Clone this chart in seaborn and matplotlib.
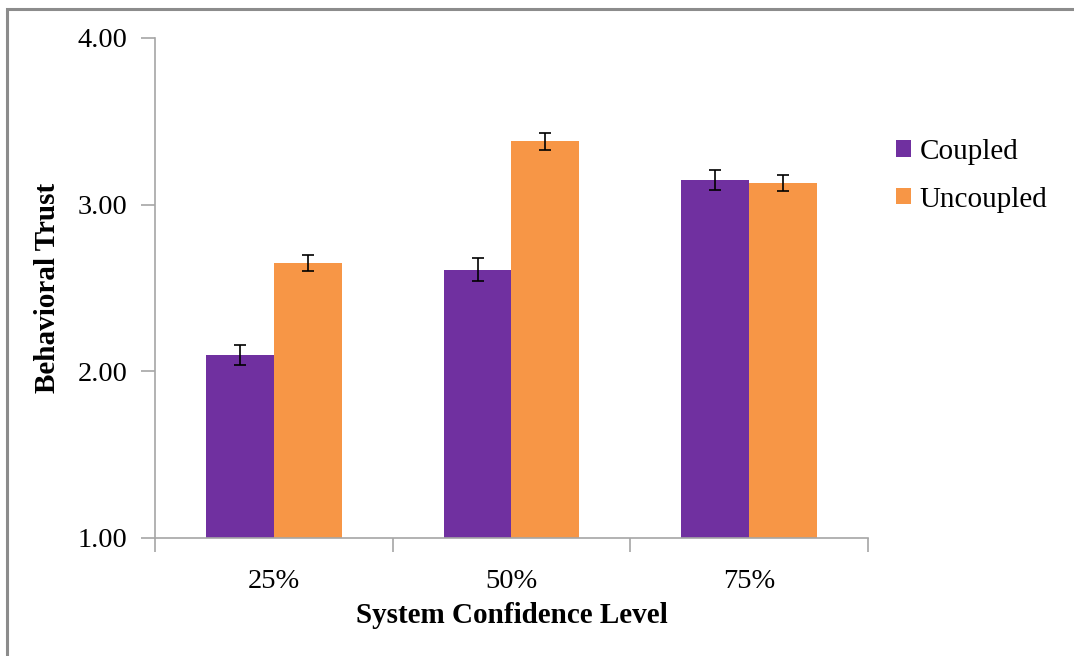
import matplotlib
matplotlib.use("Agg")
import matplotlib.pyplot as plt
import seaborn as sns
import pandas as pd
from matplotlib.patches import Rectangle

# Mean behavioral trust by system confidence level and coupling condition
levels = ["25%", "50%", "75%"]
conditions = ["Coupled", "Uncoupled"]
coupled_mean = [2.10, 2.61, 3.15]
uncoupled_mean = [2.65, 3.38, 3.13]
coupled_err = [0.06, 0.07, 0.06]
uncoupled_err = [0.05, 0.05, 0.05]
y_ticks = [1.0, 2.0, 3.0, 4.0]

df = pd.DataFrame({
    "level": levels * 2,
    "condition": [conditions[0]] * 3 + [conditions[1]] * 3,
    "trust": coupled_mean + uncoupled_mean,
    "err": coupled_err + uncoupled_err,
})

sns.set_theme(style="white")
plt.rcParams["font.family"] = ["Liberation Serif", "DejaVu Serif"]
plt.rcParams["text.color"] = "black"
plt.rcParams["axes.labelcolor"] = "black"
plt.rcParams["xtick.color"] = "black"
plt.rcParams["ytick.color"] = "black"

fig = plt.figure(figsize=(10.74, 6.56), dpi=100)
ax = fig.add_axes([0.1443, 0.1799, 0.8082 - 0.1443, 0.9421 - 0.1799])

palette = {"Coupled": "#7030A0", "Uncoupled": "#F79646"}
sns.barplot(data=df, x="level", y="trust", hue="condition", order=levels,
            hue_order=conditions, palette=palette, width=0.572,
            errorbar=None, saturation=1, linewidth=0, ax=ax, legend=True)

# Error bars at the centre of every bar (patches come grouped by condition)
bars = [p for p in ax.patches if p.get_height() > 0]
rows = [df[(df.condition == c) & (df.level == l)].iloc[0]
        for c in conditions for l in levels]
for bar, row in zip(bars, rows):
    cx = bar.get_x() + bar.get_width() / 2
    ax.errorbar(cx, row["trust"], yerr=row["err"], fmt="none",
                ecolor="black", elinewidth=1.2, capsize=4, capthick=1.2,
                zorder=5)

ax.set_ylim(1.0, 4.0)
ax.set_xlim(-0.5, 2.5)
ax.set_yticks(y_ticks)
ax.set_yticklabels([f"{v:.2f}" for v in y_ticks])
ax.set_xticks([-0.5, 0.5, 1.5, 2.5], minor=True)
ax.tick_params(axis="x", which="major", length=0, pad=22, labelsize=20.5)
ax.tick_params(axis="x", which="minor", length=10, width=1.2,
               color="#A6A6A6", direction="out", bottom=True)
ax.tick_params(axis="y", which="major", length=10, width=1.2,
               color="#A6A6A6", direction="out", left=True, pad=10,
               labelsize=20.5)

for side in ["top", "right"]:
    ax.spines[side].set_visible(False)
for side in ["left", "bottom"]:
    ax.spines[side].set_color("#A6A6A6")
    ax.spines[side].set_linewidth(1.2)

ax.set_xlabel("System Confidence Level", fontsize=21, fontweight="bold",
              labelpad=6)
ax.set_ylabel("Behavioral Trust", fontsize=21, fontweight="bold",
              labelpad=12)

leg = ax.legend(loc="upper left", bbox_to_anchor=(1.023, 0.822),
                frameon=False, fontsize=21, handlelength=0.5,
                handleheight=0.5, handletextpad=0.3, labelspacing=0.75,
                borderaxespad=0)

# Chart-area frame
fig.patches.append(Rectangle((0.0065, -0.05), 1.2, 1.036,
                             transform=fig.transFigure, fill=False,
                             edgecolor="#8C8C8C", linewidth=2.2))

fig.savefig("out.png", dpi=100, facecolor="white")
